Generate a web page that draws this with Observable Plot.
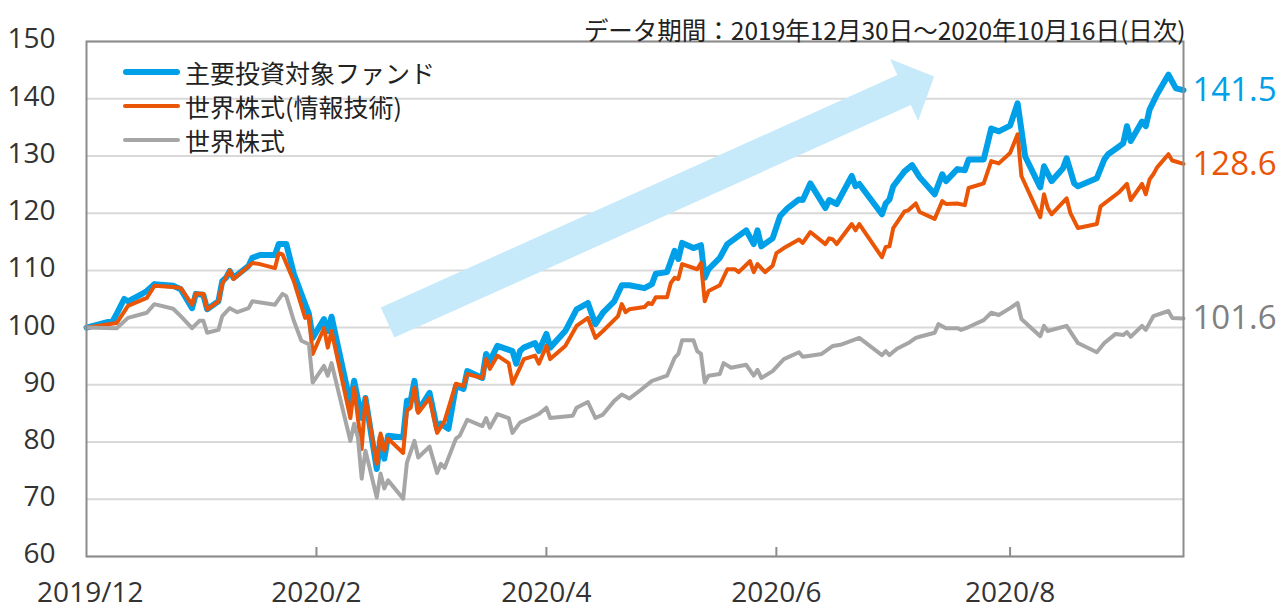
<!DOCTYPE html>
<html><head><meta charset="utf-8">
<script src="https://cdn.jsdelivr.net/npm/d3@7"></script>
<script src="https://cdn.jsdelivr.net/npm/@observablehq/plot@0.6"></script>
<style>
html,body{margin:0;padding:0;background:#fff;}
#wrap{position:relative;width:1288px;height:608px;font-family:"Open Sans","Noto Sans CJK JP",sans-serif;}
#legend{position:absolute;left:123px;top:55px;font-family:"Noto Sans CJK JP",sans-serif;}
.row{display:flex;align-items:center;height:34px;font-size:25px;color:#222;white-space:nowrap;}
.sw{width:57px;margin-right:5px;border-radius:3px;}
</style></head><body><div id="wrap"><div id="chart"></div><div id="legend"></div></div>
<script>
// ---- data (day offsets from 2019-12-30, index values) ----
const seriesNames = ["主要投資対象ファンド", "世界株式(情報技術)", "世界株式"];
const seriesColors = ["#00a0e9", "#ea5506", "#a6a6a6"];
const labelColors = ["#00a0e9", "#ea5506", "#808080"];
const endLabels = ["141.5", "128.6", "101.6"];
const title = "データ期間：2019年12月30日～2020年10月16日(日次)";

const fundDays = [0,7,8,10,11,15,16,18,23,25,28,29,31,32,35,36,37,38,39,43,44,46,50,51,53,55,58,59,60,63,64,65,70,71,73,74,77,78,79,80,84,85,86,87,88,91,93,94,96,98,100,101,105,106,107,109,113,114,115,116,119,120,122,123,127,130,133,135,137,140,142,144,148,150,151,154,156,157,158,161,163,164,165,168,170,175,177,178,179,182,184,186,189,190,192,196,197,199,203,204,205,211,212,213,214,217,219,221,225,227,228,231,233,234,238,240,242,245,247,249,253,254,256,259,260,262,263,268,270,271,274,275,276,277,280,281,282,284,287,289,291];
const fundValues = [100,101.2,102.4,105,104.6,106,106.4,107.6,107.3,106.7,103.4,105.9,105.7,103.2,104.6,108.1,108.7,109.9,108.7,110.8,112.2,112.7,112.7,114.6,114.6,109.4,104.1,102.4,98.2,101.5,99.4,101.9,86.7,90.7,84.2,87.7,75.3,80.8,77.1,81.1,80.8,87.2,87.2,90.7,85.5,88.6,82.3,83.2,82.3,89.8,89.3,92.4,91.2,95.4,94.2,96.8,95.9,93.7,95.9,96.5,97.3,95.9,98.9,96.5,99.4,103.2,104.3,100.6,102.6,104.6,107.4,107.4,106.9,107.6,109.4,109.7,113.4,112,114.8,113.9,114.4,108.7,110.2,112.2,114.6,117,114.6,117,114.2,115.6,119.5,120.9,122.4,122.3,125.2,120.9,122.3,121.6,126.5,124.7,125.1,119.8,121.7,122.4,124.7,127.3,128.4,126.3,123.3,126.8,125.6,127.7,127.5,129.4,129.4,134.8,134.3,135.3,139.2,129.9,124.5,128.2,125.6,127.8,129.6,125.2,124.7,126.1,129.4,130.3,131.7,132.2,135.2,132.6,136,135.2,138.1,140.8,144.2,141.8,141.5];

const techDays = [0,8,11,16,18,23,25,28,29,31,32,35,36,38,39,44,46,50,51,52,55,58,59,60,63,64,65,70,71,73,74,77,78,79,80,84,85,86,87,88,91,93,95,98,100,101,105,106,107,109,112,113,115,116,119,120,122,123,127,130,133,135,137,141,142,143,144,148,149,150,151,154,155,156,157,158,162,163,164,165,168,170,172,173,176,177,178,180,182,183,185,189,190,192,196,197,198,199,203,204,205,211,212,213,214,217,218,220,221,225,227,228,231,233,234,238,240,242,245,247,248,253,254,255,256,260,261,263,268,269,274,276,277,280,281,282,283,284,287,288,291];
const techValues = [100,100.8,103.8,105.2,107.3,107.1,106.9,104,105.9,105.9,103.2,104.6,107.6,110,108.5,111.3,111.1,110.4,113,112.8,108.1,101.7,102,95.4,99.9,96.5,99.4,84.2,89.5,78.8,87.7,76.2,81.5,78.5,80.6,78.1,85.5,86,89.5,85.1,87.7,81.6,83.7,90.2,89.8,91.9,91.2,94.5,92.8,95.1,93.8,90.2,93,94.5,95.1,93.7,96.8,94.5,96.8,100.3,101.7,98.2,99.4,102,104.1,102.7,103.2,103.6,104.3,104.1,105.3,105.3,107.8,108.7,108.5,111.1,110.2,111.3,104.6,106.4,107.4,110.2,110.2,109.7,111.6,109.7,111.1,109.7,110.8,113,113.9,115.4,114.8,116.7,114.6,115.6,115.4,114.6,118.1,117,118.1,112.3,114.1,114.2,117.4,120.3,120.5,121.7,120.2,119,122.1,121.6,121.7,121.4,124.4,125.2,129.1,128.7,130.5,133.8,126.5,119.3,123.3,120.9,119.8,122.6,120,117.4,118.1,121.2,123.7,125.1,122.3,125.1,123.3,125.9,126.8,128,130.3,129.2,128.6];

const worldDays = [0,8,11,16,18,23,25,28,30,31,32,35,36,38,40,43,44,50,52,53,55,57,59,60,63,64,65,70,71,72,73,74,77,78,79,80,84,85,87,88,91,93,94,95,98,99,101,105,106,107,109,112,113,115,120,122,123,129,130,133,135,137,140,142,144,147,150,151,154,156,157,158,161,162,163,164,165,168,169,171,175,177,178,179,182,185,189,190,192,195,198,200,205,211,212,213,215,218,220,221,225,226,228,231,232,234,238,240,242,245,247,248,253,254,255,260,263,268,270,273,275,276,277,280,281,283,287,288,291];
const worldValues = [100,99.9,101.7,102.6,104.1,103.3,102,99.9,101.2,101.2,99.1,99.6,102,103.4,102.7,103.4,104.6,104,105.9,105.5,101.2,97.7,97.1,90.4,93.3,91.6,93.8,80.2,83.2,80.8,73.6,78.5,70.3,74.5,71.9,73.3,70.1,76.4,80.2,77.3,79.2,74.6,76.2,75.5,80.6,81.1,83.9,82.8,84.2,82.5,84.9,84.2,81.6,83.4,84.9,86,84.2,84.6,86,87,84.2,84.8,87.2,88.3,87.6,89.1,90.7,90.9,91.6,94.7,95.4,97.8,97.8,95.9,95.4,90.4,91.6,91.9,93.8,93,93.5,91.6,92.6,91.2,92.4,94.5,95.7,94.9,95.1,95.4,96.8,97,98.2,95.2,95.9,95.2,96.3,97.3,98.2,98.4,99.1,100.6,99.9,99.9,99.6,100.1,101.3,102.6,102.2,103.4,104.3,101.5,98.5,100.3,99.4,100.3,97.3,95.7,97.3,98.9,98.7,99.2,98.4,100.3,99.6,102,102.9,101.7,101.6];

const yTicks = [60,70,80,90,100,110,120,130,140,150];
const xTickDates = ["2019-12-31","2020-02-29","2020-04-30","2020-06-30","2020-08-31"];
const xTickLabels = ["2019/12","2020/2","2020/4","2020/6","2020/8"];
const lastDay = 291;
// decorative trend arrow: [dayOffset, value] of tail centre and tip
const arrowFrom = [80, 100.8];
const arrowTo = [225, 143.8];

// ---- build ----
const day = d => new Date(Date.UTC(2019, 11, 30 + d));
const allDays = [fundDays, techDays, worldDays];
const allValues = [fundValues, techValues, worldValues];
const rows = [];
allDays.forEach((ds, s) => ds.forEach((d, i) => rows.push({series: seriesNames[s], date: day(d), value: allValues[s][i]})));
const ends = seriesNames.map((n, s) => ({date: day(lastDay), value: +endLabels[s], text: endLabels[s], color: labelColors[s]}));
const xTicks = xTickDates.map(s => new Date(s));
const xLabelMap = new Map(xTicks.map((d, i) => [+d, xTickLabels[i]]));

function arrowRender(index, scales, values, dimensions, context) {
  const x0 = scales.x(day(arrowFrom[0])), y0 = scales.y(arrowFrom[1]);
  const x1 = scales.x(day(arrowTo[0])), y1 = scales.y(arrowTo[1]);
  const L = Math.hypot(x1 - x0, y1 - y0);
  const ux = (x1 - x0) / L, uy = (y1 - y0) / L;
  const nx = -uy, ny = ux;
  const bh = 16.5, hh = 34, hl = 33;
  const bx = x1 - ux * hl, by = y1 - uy * hl;
  const pts = [
    [x0 + nx * bh, y0 + ny * bh], [bx + nx * bh, by + ny * bh], [bx + nx * hh, by + ny * hh],
    [x1, y1], [bx - nx * hh, by - ny * hh], [bx - nx * bh, by - ny * bh], [x0 - nx * bh, y0 - ny * bh]
  ];
  const p = document.createElementNS("http://www.w3.org/2000/svg", "path");
  p.setAttribute("d", "M" + pts.map(q => q.join(",")).join("L") + "Z");
  p.setAttribute("fill", "#c7eafb");
  return p;
}

const order = [0, 1, 2];
const plot = Plot.plot({
  width: 1288, height: 608,
  marginLeft: 86, marginRight: 105, marginTop: 41, marginBottom: 52,
  style: {fontFamily: '"Open Sans","Noto Sans CJK JP",sans-serif', color: "#333", background: "white", overflow: "visible"},
  x: {type: "utc", domain: [day(0), day(lastDay)]},
  y: {domain: [60, 150]},
  marks: [
    Plot.gridY(yTicks, {stroke: "#d9d9d9", strokeOpacity: 1, strokeWidth: 2}),
    arrowRender,
    ...order.map(s => Plot.line(rows.filter(r => r.series === seriesNames[s]), {
      x: "date", y: "value", stroke: seriesColors[s], strokeWidth: s === 0 ? 6 : 4,
      strokeLinejoin: "round", strokeLinecap: "round"
    })),
    Plot.frame({stroke: "#8c8c8c", strokeWidth: 2}),
    Plot.ruleX(xTicks.slice(1), {x: d => d, stroke: "#8c8c8c", strokeWidth: 2, insetTop: 515 - 9}),
    Plot.axisY(yTicks, {tickSize: 0, tickPadding: 31, fontSize: 28, dy: -2, fill: "#333", label: null}),
    Plot.axisX(xTicks, {tickSize: 0, tickPadding: 26, fontSize: 28, fill: "#333", label: null, tickFormat: d => xLabelMap.get(+d)}),
    Plot.text(ends, {x: "date", y: "value", text: "text", fill: "color", dx: 9, textAnchor: "start", fontSize: 33}),
    Plot.text([title], {frameAnchor: "top-right", dx: 2, dy: -19, textAnchor: "end", fontSize: 24.5, fill: "#222", fontFamily: '"Noto Sans CJK JP",sans-serif'})
  ]
});
document.getElementById("chart").appendChild(plot);

const legend = document.getElementById("legend");
seriesNames.forEach((n, s) => {
  const row = document.createElement("div");
  row.className = "row";
  const sw = document.createElement("span");
  sw.className = "sw";
  sw.style.background = seriesColors[s];
  sw.style.height = (s === 0 ? 6 : 4) + "px";
  const t = document.createElement("span");
  t.textContent = n;
  row.appendChild(sw); row.appendChild(t);
  legend.appendChild(row);
});
</script></body></html>
